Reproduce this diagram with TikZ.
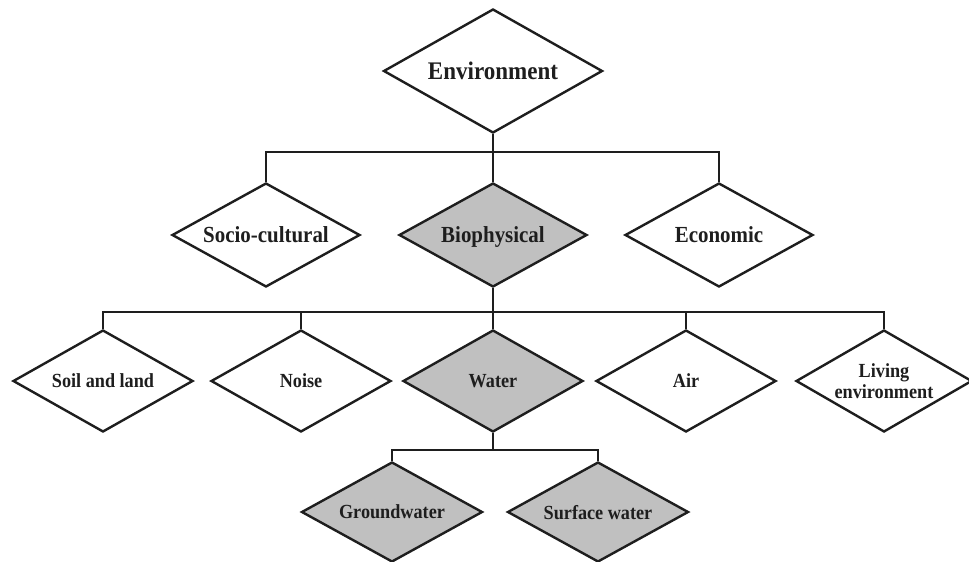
\documentclass[tikz,border=0pt]{standalone}
\usepackage{fontspec}
\setmainfont{Liberation Serif}[FakeStretch=0.91]
\usetikzlibrary{shapes.geometric}
\definecolor{boxgray}{HTML}{C0C0C0}
\definecolor{ink}{HTML}{1E1E1E}
\begin{document}
\begin{tikzpicture}[x=1pt,y=-1pt,
  % fixed-size diamond; the caption is a centred label so it never resizes the shape
  dia/.style={diamond,draw=ink,line width=2.4pt,inner sep=0pt,fill=white},
  captext/.style={text=ink,align=center,inner sep=0pt,text depth=0pt},
  shaded/.style={fill=boxgray},
  topbox/.style={dia,minimum width=219pt,minimum height=124pt,
    label={[captext,font=\bfseries\fontsize{25.3}{28}\selectfont]center:#1}},
  midbox/.style={dia,minimum width=188pt,minimum height=104pt,
    label={[captext,font=\bfseries\fontsize{23}{26}\selectfont]center:#1}},
  lowbox/.style={dia,minimum width=180pt,minimum height=102pt,
    label={[captext,font=\bfseries\fontsize{20}{20.5}\selectfont]center:#1}},
  conn/.style={draw=ink,line width=1.6pt}]
\useasboundingbox (0,0) rectangle (969,562);

% root
\node[topbox={Environment}] (env) at (493,71) {};

% second level
\node[midbox={Socio-cultural}] (soc) at (266,235) {};
\node[midbox={Biophysical},shaded] (bio) at (493,235) {};
\node[midbox={Economic}] (eco) at (719,235) {};

% third level
\node[lowbox={Soil and land}] (soil) at (103,381) {};
\node[lowbox={Noise}] (noise) at (301,381) {};
\node[lowbox={Water},shaded] (water) at (493,381) {};
\node[lowbox={Air}] (air) at (686,381) {};
\node[lowbox={Living\\environment},minimum width=176pt] (liv) at (884,381) {};

% fourth level
\node[lowbox={Groundwater},shaded,minimum width=181pt,minimum height=100pt] (gw) at (392,512) {};
\node[lowbox={Surface water},shaded,minimum width=181pt,minimum height=100pt] (sw) at (598,512) {};

% bus coordinates
\coordinate (b1) at (493,152);
\coordinate (b2) at (493,312);
\coordinate (b3) at (493,450);

% connectors
\draw[conn] (soc.north) -- (soc.north |- b1) -| (eco.north);
\draw[conn] (env.south) -- (bio.north);

\draw[conn] (soil.north) -- (soil.north |- b2) -| (liv.north);
\draw[conn] (noise.north) -- (noise.north |- b2);
\draw[conn] (air.north) -- (air.north |- b2);
\draw[conn] (bio.south) -- (water.north);

\draw[conn] (gw.north) -- (gw.north |- b3) -| (sw.north);
\draw[conn] (water.south) -- (b3);
\end{tikzpicture}
\end{document}
